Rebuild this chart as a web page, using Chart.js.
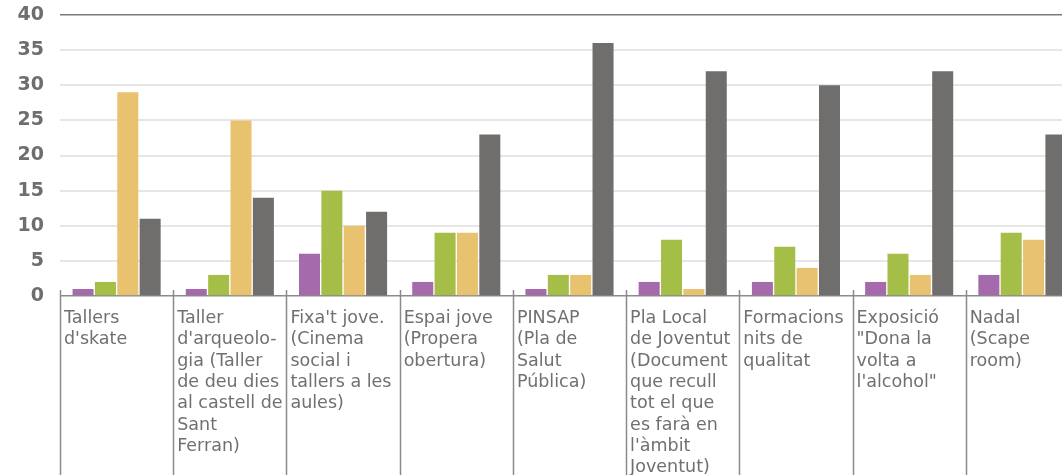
<!DOCTYPE html>
<html>
<head>
<meta charset="utf-8">
<script src="https://cdn.jsdelivr.net/npm/chart.js@4/dist/chart.umd.min.js"></script>
<style>
  html, body { margin: 0; padding: 0; background: #fff; overflow: hidden; }
  #wrap { position: relative; width: 1082px; height: 475px; }
</style>
</head>
<body>
<div id="wrap"><canvas id="activitatsChart"></canvas></div>
<script>
// Activity names, already split into the lines shown under each group
const categories = [
    ['Tallers', "d'skate"],
    ['Taller', "d'arqueolo-", 'gia (Taller', 'de deu dies', 'al castell de', 'Sant', 'Ferran)'],
    ["Fixa't jove.", '(Cinema', 'social i', 'tallers a les', 'aules)'],
    ['Espai jove', '(Propera', 'obertura)'],
    ['PINSAP', '(Pla de', 'Salut', 'Pública)'],
    ['Pla Local', 'de Joventut', '(Document', 'que recull', 'tot el que', 'es farà en', "l'àmbit", 'Joventut)'],
    ['Formacions', 'nits de', 'qualitat'],
    ['Exposició', '"Dona la', 'volta a', "l'alcohol\""],
    ['Nadal', '(Scape', 'room)']
];

const serie1 = [1, 1, 6, 2, 1, 2, 2, 2, 3];
const serie2 = [2, 3, 15, 9, 3, 8, 7, 6, 9];
const serie3 = [29, 25, 10, 9, 3, 1, 4, 3, 8];
const serie4 = [11, 14, 12, 23, 36, 32, 30, 32, 23];

const yTicks = [0, 5, 10, 15, 20, 25, 30, 35, 40];

const colors = ['#a46aab', '#a5be48', '#e8c26f', '#706e6c'];

// Category separators and left-aligned multi-line labels under the axis
const categoryLabels = {
    id: 'categoryLabels',
    afterDraw(chart) {
        const ctx = chart.ctx;
        const xScale = chart.scales.x;
        const area = chart.chartArea;
        const step = (xScale.right - xScale.left) / categories.length;

        ctx.save();
        ctx.strokeStyle = '#8a8a8a';
        ctx.lineWidth = 1.5;
        for (let i = 0; i <= categories.length; i++) {
            const x = Math.round(xScale.left + i * step) + 0.5;
            ctx.beginPath();
            ctx.moveTo(x, area.bottom - 6);
            ctx.lineTo(x, chart.height);
            ctx.stroke();
        }

        ctx.fillStyle = '#707070';
        ctx.font = '17.5px "DejaVu Sans"';
        ctx.textAlign = 'left';
        ctx.textBaseline = 'alphabetic';
        categories.forEach((lines, i) => {
            const x = xScale.getPixelForValue(i) - step / 2 + 4;
            lines.forEach((line, j) => {
                ctx.fillText(line, x, area.bottom + 27 + j * 21.3);
            });
        });
        ctx.restore();
    }
};

const ctx = document.getElementById('activitatsChart').getContext('2d');
new Chart(ctx, {
    type: 'bar',
    data: {
        labels: categories.map(c => c.join(' ')),
        datasets: [serie1, serie2, serie3, serie4].map((values, i) => ({
            label: 'Sèrie ' + (i + 1),
            data: values,
            backgroundColor: colors[i],
            borderWidth: 0,
            categoryPercentage: 0.79,
            barPercentage: 0.94
        }))
    },
    options: {
        responsive: true,
        maintainAspectRatio: false,
        animation: false,
        layout: {
            padding: { top: 0, right: 3, left: 0, bottom: 0 }
        },
        plugins: {
            legend: { display: false },
            tooltip: { enabled: false }
        },
        scales: {
            x: {
                grid: { display: false },
                border: { display: false },
                ticks: { display: false },
                afterFit(scale) { scale.height = 179; }
            },
            y: {
                min: 0,
                max: 40,
                afterBuildTicks(scale) {
                    scale.ticks = yTicks.map(v => ({ value: v }));
                },
                afterFit(scale) {
                    scale.width = 60;
                    scale.paddingTop = 15;
                    scale.paddingBottom = 0;
                },
                border: { display: false },
                grid: {
                    drawTicks: false,
                    lineWidth: c => (c.tick.value === 0 || c.tick.value === 40) ? 1.5 : 2,
                    color: c => {
                        if (c.tick.value === 40) return '#7a7a7a';
                        if (c.tick.value === 0) return '#8a8a8a';
                        return '#e6e6e6';
                    }
                },
                ticks: {
                    color: '#6e6e6e',
                    padding: 16,
                    font: { family: 'DejaVu Sans', size: 19, weight: 'bold' }
                }
            }
        }
    },
    plugins: [categoryLabels]
});
</script>
</body>
</html>
